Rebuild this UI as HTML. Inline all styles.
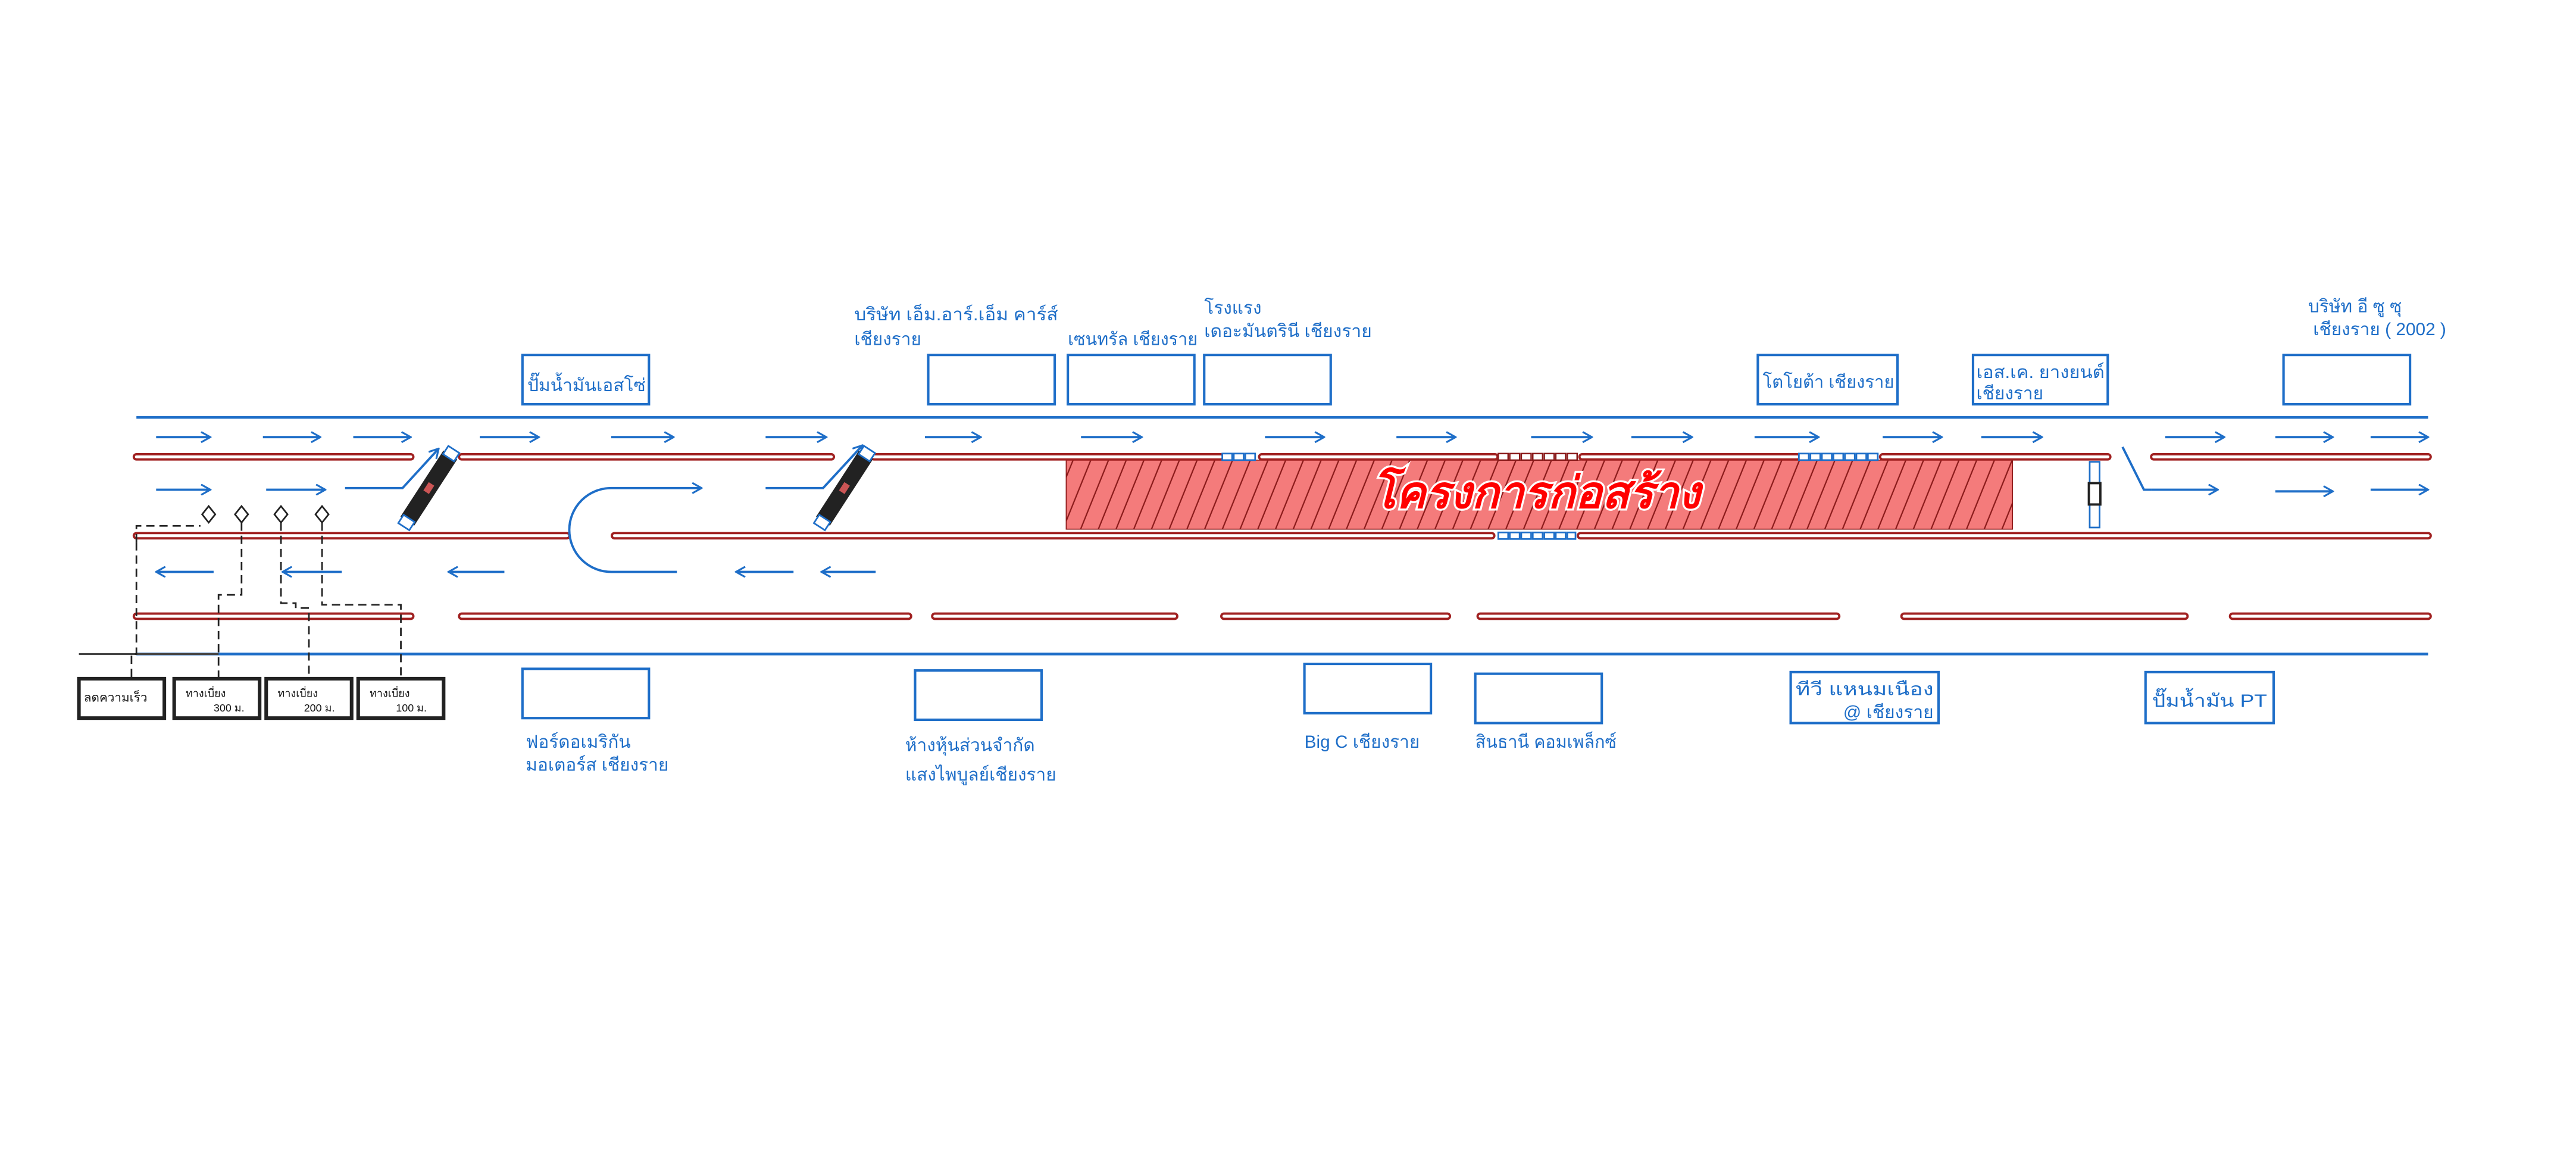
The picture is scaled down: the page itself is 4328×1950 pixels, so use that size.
<!DOCTYPE html>
<html><head><meta charset="utf-8"><style>
html,body{margin:0;padding:0;background:#fff;}
svg{display:block;}
text{font-family:"Liberation Sans","Noto Sans CJK SC","WenQuanYi Zen Hei",sans-serif;}
.lb{fill:#1e6ec8;font-size:10.8px;}
.bk{fill:#111;font-size:6.5px;}
</style></head><body>
<svg width="4328" height="1950" viewBox="0 0 1568 706.5" xmlns="http://www.w3.org/2000/svg">
<defs>
<pattern id="h" patternUnits="userSpaceOnUse" width="10" height="10" patternTransform="rotate(22)">
<rect width="10" height="10" fill="#f47b7b"/>
<line x1="0.5" y1="0" x2="0.5" y2="10" stroke="#8a1a1a" stroke-width="0.8"/>
</pattern>
<marker id="ar" viewBox="0 0 10 10" refX="9" refY="5" markerWidth="7" markerHeight="7" orient="auto" markerUnits="userSpaceOnUse">
<path d="M1,0.5 L9,5 L1,9.5" fill="none" stroke="#1e6ec8" stroke-width="1.6"/>
</marker>
</defs>
<rect width="1568" height="706.5" fill="#fff"/>

<line x1="83" y1="254" x2="1478" y2="254" stroke="#1e6ec8" stroke-width="1.6"/>
<line x1="83" y1="398" x2="1478" y2="398" stroke="#1e6ec8" stroke-width="1.6"/>
<line x1="48" y1="398" x2="133" y2="398" stroke="#444" stroke-width="1.2"/>

<rect x="649" y="280" width="576" height="42" fill="url(#h)" stroke="#8a1a1a" stroke-width="0.6"/>

<g stroke="#a02020" stroke-width="4.6" stroke-linecap="round" fill="none">
<path d="M83 278H250 M281 278H506 M532 278H743 M768 278H910 M963 278H1094 M1146 278H1283 M1311 278H1478"/>
<path d="M83 326H345 M374 326H908 M962 326H1478"/>
<path d="M83 375H250 M281 375H553 M569 375H715 M745 375H881 M901 375H1118 M1159 375H1330 M1359 375H1478"/>
</g>
<g stroke="#fff" stroke-width="1.8" stroke-linecap="round" fill="none">
<path d="M83 278H250 M281 278H506 M532 278H743 M768 278H910 M963 278H1094 M1146 278H1283 M1311 278H1478"/>
<path d="M83 326H345 M374 326H908 M962 326H1478"/>
<path d="M83 375H250 M281 375H553 M569 375H715 M745 375H881 M901 375H1118 M1159 375H1330 M1359 375H1478"/>
</g>
<g fill="#fff" stroke="#1e6ec8" stroke-width="1">
<rect x="744" y="276" width="6" height="4"/><rect x="751" y="276" width="6" height="4"/><rect x="758" y="276" width="6" height="4"/>
<rect x="1095" y="276" width="6" height="4"/><rect x="1102" y="276" width="6" height="4"/><rect x="1109" y="276" width="6" height="4"/><rect x="1116" y="276" width="6" height="4"/><rect x="1123" y="276" width="6" height="4"/><rect x="1130" y="276" width="6" height="4"/><rect x="1137" y="276" width="6" height="4"/>
<rect x="912" y="324" width="6" height="4"/><rect x="919" y="324" width="6" height="4"/><rect x="926" y="324" width="6" height="4"/><rect x="933" y="324" width="6" height="4"/><rect x="940" y="324" width="6" height="4"/><rect x="947" y="324" width="6" height="4"/><rect x="954" y="324" width="5" height="4"/>
</g>
<g fill="#fff" stroke="#8a1a1a" stroke-width="0.9">
<rect x="912" y="276" width="6" height="4"/><rect x="919" y="276" width="6" height="4"/><rect x="926" y="276" width="6" height="4"/><rect x="933" y="276" width="6" height="4"/><rect x="940" y="276" width="6" height="4"/><rect x="947" y="276" width="6" height="4"/><rect x="954" y="276" width="6" height="4"/>
</g>

<g stroke="#1e6ec8" stroke-width="1.4" fill="none" marker-end="url(#ar)">
<path d="M95 266H128"/><path d="M160 266H195"/><path d="M215 266H250"/><path d="M292 266H328"/><path d="M372 266H410"/><path d="M466 266H503"/><path d="M563 266H597"/><path d="M658 266H695"/><path d="M770 266H806"/><path d="M850 266H886"/><path d="M932 266H969"/><path d="M993 266H1030"/><path d="M1068 266H1107"/><path d="M1146 266H1182"/><path d="M1206 266H1243"/><path d="M1318 266H1354"/><path d="M1385 266H1420"/><path d="M1443 266H1478"/>
<path d="M95 298H128"/><path d="M162 298H198"/><path d="M210 297H245L267 273"/>
<path d="M466 297H501L525 271"/>
<path d="M1310 298H1350"/><path d="M1385 299H1420"/><path d="M1443 298H1478"/>
<path d="M412 348H372A25.5 25.5 0 0 1 372 297H427"/>
<path d="M130 348H95"/><path d="M208 348H172"/><path d="M307 348H273"/><path d="M483 348H448"/><path d="M533 348H500"/>
</g>
<path d="M1292 272L1305 298H1310" stroke="#1e6ec8" stroke-width="1.4" fill="none"/>

<g transform="translate(261,297) rotate(-57)">
<rect x="-24" y="-5" width="48" height="10" fill="#222"/>
<rect x="-28" y="-4" width="6" height="8" fill="#fff" stroke="#1e6ec8" stroke-width="1"/>
<rect x="22" y="-4" width="6" height="8" fill="#fff" stroke="#1e6ec8" stroke-width="1"/>
<rect x="-3" y="-2" width="6" height="4" fill="#c55"/>
</g>
<g transform="translate(514,297) rotate(-57)">
<rect x="-24" y="-5" width="48" height="10" fill="#222"/>
<rect x="-28" y="-4" width="6" height="8" fill="#fff" stroke="#1e6ec8" stroke-width="1"/>
<rect x="22" y="-4" width="6" height="8" fill="#fff" stroke="#1e6ec8" stroke-width="1"/>
<rect x="-3" y="-2" width="6" height="4" fill="#c55"/>
</g>
<g>
<rect x="1272" y="281" width="6" height="40" fill="#fff" stroke="#1e6ec8" stroke-width="1"/>
<rect x="1271.5" y="294" width="7" height="13" fill="#fff" stroke="#222" stroke-width="1.4"/>
</g>

<g stroke="#222" stroke-width="1" fill="none" stroke-dasharray="5,3">
<path d="M83 330V320H122"/>
<path d="M83 330V398H80V412"/>
<path d="M147 318V362H133V412"/>
<path d="M171 318V367H180V370H188V412"/>
<path d="M196 318V368H244V412"/>
</g>
<g fill="#fff" stroke="#222" stroke-width="1">
<path d="M127 308L131 313L127 318L123 313Z"/>
<path d="M147 308L151 313L147 318L143 313Z"/>
<path d="M171 308L175 313L171 318L167 313Z"/>
<path d="M196 308L200 313L196 318L192 313Z"/>
</g>
<g fill="#fff" stroke="#222" stroke-width="2.2">
<rect x="48" y="413" width="52" height="24"/>
<rect x="106" y="413" width="52" height="24"/>
<rect x="162" y="413" width="52" height="24"/>
<rect x="218" y="413" width="52" height="24"/>
</g>
<text class="bk" x="51" y="427" style="font-size:7.5px">ลดความเร็ว</text>
<text class="bk" x="113" y="424">ทางเบี่ยง</text><text class="bk" x="130" y="433">300 ม.</text>
<text class="bk" x="169" y="424">ทางเบี่ยง</text><text class="bk" x="185" y="433">200 ม.</text>
<text class="bk" x="225" y="424">ทางเบี่ยง</text><text class="bk" x="241" y="433">100 ม.</text>

<g fill="none" stroke="#1e6ec8" stroke-width="1.5">
<rect x="318" y="216" width="77" height="30"/>
<rect x="565" y="216" width="77" height="30"/>
<rect x="650" y="216" width="77" height="30"/>
<rect x="733" y="216" width="77" height="30"/>
<rect x="1070" y="216" width="85" height="30"/>
<rect x="1201" y="216" width="82" height="30"/>
<rect x="1390" y="216" width="77" height="30"/>
<rect x="318" y="407" width="77" height="30"/>
<rect x="557" y="408" width="77" height="30"/>
<rect x="794" y="404" width="77" height="30"/>
<rect x="898" y="410" width="77" height="30"/>
<rect x="1090" y="409" width="90" height="31"/>
<rect x="1306" y="409" width="78" height="31"/>
</g>
<text class="lb" x="321" y="238" textLength="72" lengthAdjust="spacingAndGlyphs">ปั๊มน้ำมันเอสโซ่</text>
<text class="lb" x="520" y="195" textLength="124" lengthAdjust="spacingAndGlyphs">บริษัท เอ็ม.อาร์.เอ็ม คาร์ส์</text>
<text class="lb" x="520" y="210">เชียงราย</text>
<text class="lb" x="650" y="210" textLength="79" lengthAdjust="spacingAndGlyphs">เซนทรัล เชียงราย</text>
<text class="lb" x="733" y="191">โรงแรง</text>
<text class="lb" x="733" y="205" textLength="102" lengthAdjust="spacingAndGlyphs">เดอะมันตรินี เชียงราย</text>
<text class="lb" x="1073" y="236" textLength="80" lengthAdjust="spacingAndGlyphs">โตโยต้า เชียงราย</text>
<text class="lb" x="1203" y="230" textLength="78" lengthAdjust="spacingAndGlyphs">เอส.เค. ยางยนต์</text>
<text class="lb" x="1203" y="243">เชียงราย</text>
<text class="lb" x="1405" y="190">บริษัท อี ซู ซุ</text>
<text class="lb" x="1408" y="204">เชียงราย ( 2002 )</text>
<text class="lb" x="320" y="455">ฟอร์ดอเมริกัน</text>
<text class="lb" x="320" y="469">มอเตอร์ส เชียงราย</text>
<text class="lb" x="551" y="457">ห้างหุ้นส่วนจำกัด</text>
<text class="lb" x="551" y="475">แสงไพบูลย์เชียงราย</text>
<text class="lb" x="794" y="455">Big C เชียงราย</text>
<text class="lb" x="898" y="455" textLength="86" lengthAdjust="spacingAndGlyphs">สินธานี คอมเพล็กซ์</text>
<text class="lb" x="1093" y="423" textLength="84" lengthAdjust="spacingAndGlyphs">ทีวี  แหนมเนือง</text>
<text class="lb" x="1122" y="437" textLength="55" lengthAdjust="spacingAndGlyphs">@ เชียงราย</text>
<text class="lb" x="1310" y="430" textLength="70" lengthAdjust="spacingAndGlyphs">ปั๊มน้ำมัน  PT</text>

<text x="935" y="309" text-anchor="middle" font-size="27" font-weight="bold" font-style="italic" fill="#ff0000" stroke="#fff" stroke-width="2.4" paint-order="stroke" textLength="200" lengthAdjust="spacingAndGlyphs" style="font-family:'Liberation Sans','Noto Sans CJK SC',sans-serif">โครงการก่อสร้าง</text>
</svg>
</body></html>
